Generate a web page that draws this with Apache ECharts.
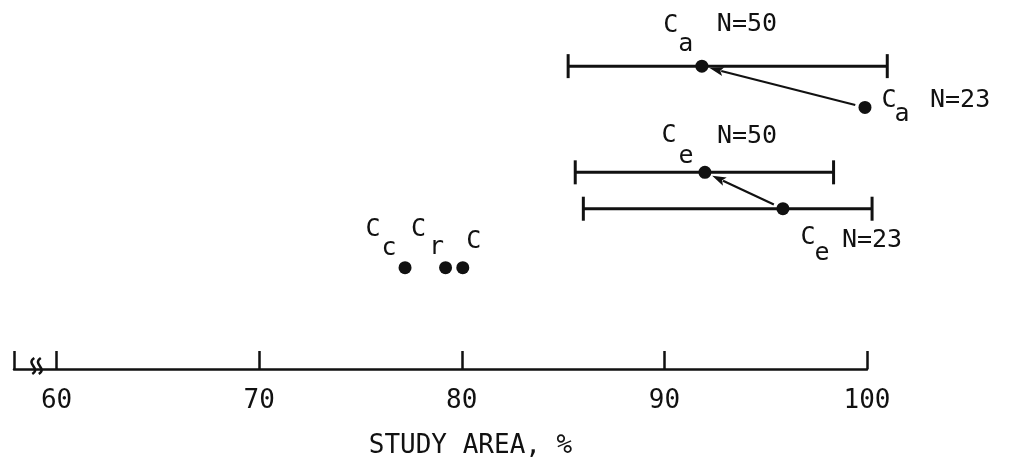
<!DOCTYPE html>
<html><head><meta charset="utf-8">
<script src="https://cdn.jsdelivr.net/npm/echarts@6/dist/echarts.min.js"></script>
<style>html,body{margin:0;padding:0;background:#fff}#c{width:1009px;height:464px}</style>
</head><body><div id="c"></div>
<script>
// ---- data ----
const xTicks = [60, 70, 80, 90, 100];
const pointNames = ['Ca N=50', 'Ca N=23', 'Ce N=50', 'Ce N=23', 'Cc', 'Cr', 'C'];
const studyArea = [91.85, 99.9, 92.0, 95.85, 77.2, 79.2, 80.05];
const rowLevel = [308, 266, 200, 163, 103, 103, 103];
const subLetter = ['a', 'a', 'e', 'e', 'c', 'r', ''];
const sampleN = ['N=50', 'N=23', 'N=50', 'N=23', '', '', ''];
const barPoint = [0, 2, 3];
const barLow = [85.25, 85.6, 86.0];
const barHigh = [101.0, 98.35, 100.25];
const arrowFrom = [1, 3];
const arrowTo = [0, 2];
const axisMin = 57.9, axisMax = 100, axisBreak = 59.0;

// ---- layout / style (pixel offsets of label parts relative to each dot) ----
const LABEL_LAYOUT = [
  {c: [-31, -41], s: [-16, -22], n: [15, -42]},
  {c: [24, -7], s: [37, 7], n: [65, -7]},
  {c: [-36, -37], s: [-19, -16], n: [12, -36]},
  {c: [25, 29], s: [39, 45], n: [59, 32]},
  {c: [-32, -38], s: [-16, -19]},
  {c: [-27, -38], s: [-9, -20]},
  {c: [11, -26]}
];
const FONT = '"DejaVu Sans Mono", "Liberation Mono", monospace';
const LFONT = '25px ' + FONT;
const INK = '#111';

const chart = echarts.init(document.getElementById('c'), null, {renderer: 'canvas'});

const barData = barPoint.map((p, i) => [barLow[i], barHigh[i], rowLevel[p]]);
const pointData = studyArea.map((v, i) => [v, rowLevel[i], i]);
const arrowData = arrowFrom.map((f, i) => [studyArea[f], rowLevel[f], studyArea[arrowTo[i]], rowLevel[arrowTo[i]]]);

function txt(x, y, text, align) {
  return {type: 'text', style: {x: x, y: y, text: text, font: LFONT, fill: INK,
    align: align || 'center', verticalAlign: 'middle'}};
}

chart.setOption({
  animation: false,
  backgroundColor: '#fff',
  grid: {left: 14, right: 142, top: 15, bottom: 90},
  xAxis: {
    type: 'value', min: axisMin, max: axisMax,
    axisLine: {show: true, lineStyle: {color: INK, width: 2.5}},
    axisTick: {show: true, inside: true, length: 18, lineStyle: {color: INK, width: 2.5},
      customValues: [axisMin].concat(xTicks)},
    axisLabel: {show: true, customValues: xTicks, margin: 19, fontSize: 26, fontFamily: FONT, color: INK},
    splitLine: {show: false},
    name: 'STUDY AREA, %', nameLocation: 'middle', nameGap: 64,
    nameTextStyle: {fontSize: 26, fontFamily: FONT, color: INK, padding: [0, 0, 0, 60]}
  },
  yAxis: {type: 'value', min: 0, max: 360, show: false},
  series: [
    {
      type: 'custom', clip: false, data: barData, silent: true,
      renderItem: function (params, api) {
        const a = api.coord([api.value(0), api.value(2)]);
        const b = api.coord([api.value(1), api.value(2)]);
        const h = 12;
        const st = {stroke: INK, lineWidth: 3};
        return {type: 'group', children: [
          {type: 'line', shape: {x1: a[0], y1: a[1], x2: b[0], y2: b[1]}, style: st},
          {type: 'line', shape: {x1: a[0], y1: a[1] - h, x2: a[0], y2: a[1] + h}, style: st},
          {type: 'line', shape: {x1: b[0], y1: b[1] - h, x2: b[0], y2: b[1] + h}, style: st}
        ]};
      }
    },
    {
      type: 'custom', clip: false, data: arrowData, silent: true,
      renderItem: function (params, api) {
        const p = api.coord([api.value(0), api.value(1)]);
        const q = api.coord([api.value(2), api.value(3)]);
        const dx = q[0] - p[0], dy = q[1] - p[1];
        const L = Math.sqrt(dx * dx + dy * dy), ux = dx / L, uy = dy / L;
        const sx = p[0] + ux * 10, sy = p[1] + uy * 10;
        const tx = q[0] - ux * 8, ty = q[1] - uy * 8;
        const al = 14, aw = 4.5;
        const bx = tx - ux * al, by = ty - uy * al;
        return {type: 'group', children: [
          {type: 'line', shape: {x1: sx, y1: sy, x2: bx + ux * 2, y2: by + uy * 2}, style: {stroke: INK, lineWidth: 2.2}},
          {type: 'polygon', shape: {points: [[tx, ty], [bx - uy * aw, by + ux * aw], [bx + ux * 3, by + uy * 3], [bx + uy * aw, by - ux * aw]]},
            style: {fill: INK}}
        ]};
      }
    },
    {
      type: 'custom', clip: false, data: pointData, silent: true,
      renderItem: function (params, api) {
        const i = api.value(2);
        const c = api.coord([api.value(0), api.value(1)]);
        const lay = LABEL_LAYOUT[i];
        const ch = [{type: 'circle', shape: {cx: c[0], cy: c[1], r: 6.5}, style: {fill: INK}}];
        ch.push(txt(c[0] + lay.c[0], c[1] + lay.c[1], 'C'));
        if (subLetter[i]) ch.push(txt(c[0] + lay.s[0], c[1] + lay.s[1], subLetter[i]));
        if (sampleN[i]) ch.push(txt(c[0] + lay.n[0], c[1] + lay.n[1], sampleN[i], 'left'));
        return {type: 'group', children: ch};
      }
    }
  ]
});

// axis break mark
const bx = chart.convertToPixel({xAxisIndex: 0}, axisBreak);
const by = chart.convertToPixel({yAxisIndex: 0}, 0);
function squiggle(cx) {
  return {type: 'bezierCurve', shape: {x1: cx + 1, y1: by - 11, cpx1: cx - 8, cpy1: by - 5, cpx2: cx + 8, cpy2: by - 1, x2: cx - 1, y2: by + 5},
    style: {stroke: INK, lineWidth: 2.5, fill: null}};
}
chart.setOption({graphic: [squiggle(bx - 3), squiggle(bx + 3.5)]});
</script>
</body></html>
